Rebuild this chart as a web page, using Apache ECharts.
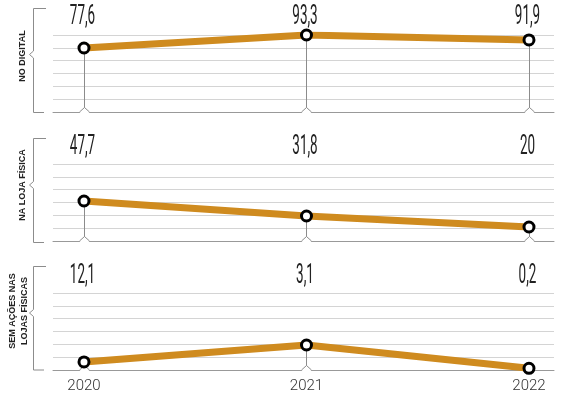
<!DOCTYPE html>
<html>
<head>
<meta charset="utf-8">
<script src="https://cdn.jsdelivr.net/npm/echarts@6/dist/echarts.min.js"></script>
<style>html,body{margin:0;padding:0;background:#fff;}#c{width:562px;height:396px;}</style>
</head>
<body>
<div id="c"></div>
<script>
const years = [2020, 2021, 2022];
const digitalValues = [77.3, 93, 87];
const lojaValues = [48.3, 30.2, 16.9];
const semValues = [9.7, 30.2, 2];
const digitalLabels = ['77,6', '93,3', '91,9'];
const lojaLabels = ['47,7', '31,8', '20'];
const semLabels = ['12,1', '3,1', '0,2'];
const panelTitles = ['NO DIGITAL', 'NA LOJA FÍSICA', 'SEM AÇÕES NAS\nLOJAS FÍSICAS'];
const yearLabels = ['2020', '2021', '2022'];

const panels = [
  { values: digitalValues, labels: digitalLabels, title: panelTitles[0] },
  { values: lojaValues, labels: lojaLabels, title: panelTitles[1] },
  { values: semValues, labels: semLabels, title: panelTitles[2] }
];

const gridTops = [35, 164, 293];
const gridH = 77;
const LINE = '#CF8B1F';
const GRAY = '#8c8c8c';

const chart = echarts.init(document.getElementById('c'), null, { renderer: 'canvas' });

const grids = gridTops.map(t => ({ left: 53, right: 8, top: t, height: gridH }));
const xAxes = gridTops.map((t, i) => ({
  type: 'value', gridIndex: i, min: 2019.8607, max: 2022.1124,
  axisLine: { show: true, lineStyle: { color: '#999', width: 1 } },
  axisTick: { show: false },
  splitLine: { show: false },
  axisLabel: i === 2 ? {
    show: true, customValues: years, margin: 9,
    formatter: v => yearLabels[years.indexOf(Math.round(v))] || '',
    fontFamily: 'Roboto', fontWeight: 300, fontSize: 15, color: '#333'
  } : { show: false }
}));
const yAxes = gridTops.map((t, i) => ({
  type: 'value', gridIndex: i, min: 0, max: 93, interval: 15.5,
  axisLine: { show: false }, axisTick: { show: false }, axisLabel: { show: false },
  splitLine: { show: true, lineStyle: { color: '#d4d4d4', width: 1 } }
}));

const series = [];
panels.forEach((p, i) => {
  const data = years.map((y, k) => [y, p.values[k]]);
  series.push({
    type: 'custom', xAxisIndex: i, yAxisIndex: i, z: 1, silent: true,
    data: data,
    renderItem: function (params, api) {
      const x = api.value(0), y = api.value(1);
      const pt = api.coord([x, y]);
      const b = api.coord([x, 0]);
      const cx = Math.round(pt[0]) + 0.5;
      const by = b[1];
      return {
        type: 'group',
        children: [
          { type: 'line', shape: { x1: cx, y1: pt[1], x2: cx, y2: by - 4 }, style: { stroke: GRAY, lineWidth: 1 } },
          { type: 'polygon', shape: { points: [[cx - 5, by + 1], [cx, by - 4.5], [cx + 5, by + 1]] }, style: { fill: '#fff', stroke: null } },
          { type: 'polyline', shape: { points: [[cx - 5, by], [cx, by - 4.5], [cx + 5, by]] }, style: { stroke: GRAY, fill: null, lineWidth: 1 } }
        ]
      };
    }
  });
  series.push({
    type: 'line', xAxisIndex: i, yAxisIndex: i, z: 3,
    data: data,
    lineStyle: { color: LINE, width: 7 },
    symbol: 'circle', symbolSize: 10,
    itemStyle: { color: '#fff', borderColor: '#000', borderWidth: 3 },
    emphasis: { disabled: true },
    animation: false
  });
});

chart.setOption({
  animation: false,
  grid: grids, xAxis: xAxes, yAxis: yAxes, series: series
});

// decorations: braces, rotated titles, value labels (positioned via the chart's scales)
const graphics = [];
const braces = [
  { top: 8, bottom: 112, notch: 54.5, titleY: 56 },
  { top: 138, bottom: 242, notch: 185, titleY: 185 },
  { top: 266, bottom: 369.5, notch: 313, titleY: 311 }
];
const labelCapCenter = [17, 147, 275.5];
braces.forEach((b, i) => {
  graphics.push({
    type: 'polyline', silent: true,
    shape: { points: [[46, b.top + 0.5], [33.5, b.top + 0.5], [33.5, b.notch - 3.5], [29.5, b.notch], [33.5, b.notch + 3.5], [33.5, b.bottom + 0.5], [44, b.bottom + 0.5]] },
    style: { stroke: GRAY, fill: null, lineWidth: 1 }
  });
  graphics.push({
    type: 'text', silent: true, x: i === 2 ? 18.5 : 23, y: b.titleY, rotation: Math.PI / 2,
    style: {
      text: panels[i].title, x: 0, y: 0, align: 'center', verticalAlign: 'middle',
      fontFamily: 'Liberation Sans, Arial, sans-serif', fontWeight: 'bold', fontSize: 9,
      lineHeight: 12, fill: '#222'
    }
  });
  years.forEach((yr, k) => {
    const px = chart.convertToPixel({ gridIndex: i }, [yr, 0]);
    graphics.push({
      type: 'text', silent: true, x: px[0] - 1.5, y: labelCapCenter[i], scaleX: 0.48,
      style: {
        text: panels[i].labels[k], x: 0, y: 0, align: 'center', verticalAlign: 'middle',
        fontFamily: 'Roboto', fontWeight: 400, fontSize: 28, fill: '#222'
      }
    });
  });
});
chart.setOption({ graphic: graphics });
</script>
</body>
</html>
